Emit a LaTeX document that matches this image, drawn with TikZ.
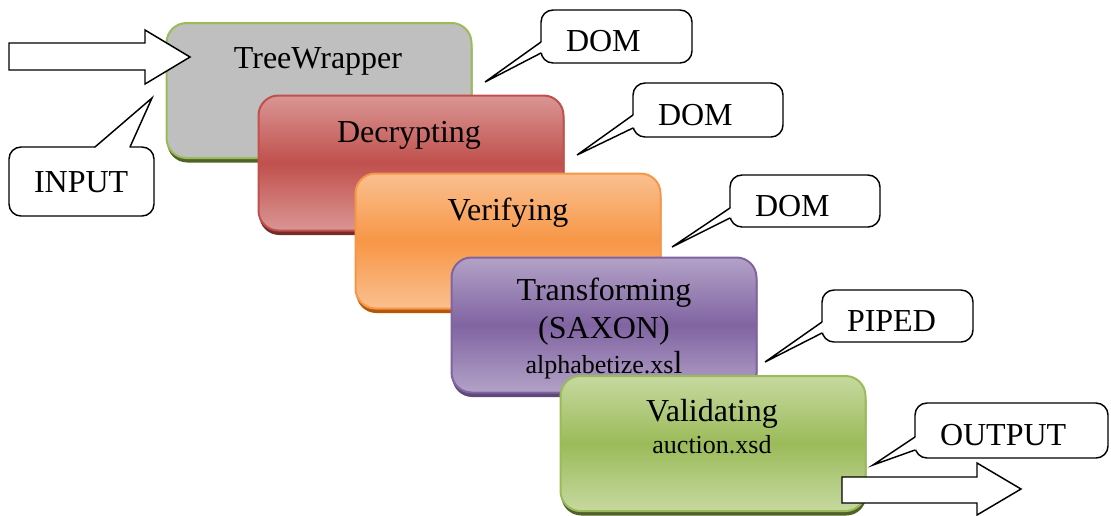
\documentclass[tikz,border=0pt]{standalone}
\usepackage{fontspec}
\setmainfont{Liberation Serif}
\usetikzlibrary{calc,shadows}

% one pixel of the layout grid
\newlength\unitpx
\setlength\unitpx{0.75pt}

\definecolor{grayfill}{HTML}{BFBFBF}
\definecolor{olgreen}{HTML}{9BBB59}
\definecolor{olgreenlt}{HTML}{C6D9A0}
\definecolor{olgreendk}{HTML}{4F6228}
\definecolor{redmid}{HTML}{C0504D}
\definecolor{redlt}{HTML}{DA9694}
\definecolor{reddk}{HTML}{772C2A}
\definecolor{orgmid}{HTML}{F79646}
\definecolor{orglt}{HTML}{FAC090}
\definecolor{orgdk}{HTML}{B65708}
\definecolor{purmid}{HTML}{8064A2}
\definecolor{purlt}{HTML}{B3A2C7}
\definecolor{purdk}{HTML}{5F497A}

\tikzset{
  stagebox/.style={rounded corners=20\unitpx, minimum width=305\unitpx,
    minimum height=135\unitpx, inner sep=0pt, outer sep=0pt, line width=1.5pt},
  tint/.style 2 args={top color=#1, bottom color=#1, middle color=#2},
  under/.style={drop shadow={shadow xshift=0.75\unitpx, shadow yshift=-4.5\unitpx,
    fill=#1, opacity=1}},
  stagetext/.style={font=\fontsize{24}{28}\selectfont, inner sep=0pt, anchor=base},
  smalltext/.style={font=\fontsize{19.5}{23}\selectfont, inner sep=0pt, anchor=base},
  callbox/.style={draw, fill=white, rounded corners=12\unitpx, line width=1.1pt,
    inner xsep=25\unitpx, inner ysep=0pt, outer sep=0pt, align=left,
    font=\fontsize{24}{28}\selectfont, text height=22.5pt, text depth=0pt},
  pointer/.style={line width=1.1pt, line join=miter, line cap=round},
  blockarrow/.style={draw, fill=white, line width=1.1pt, line join=miter},
}

\begin{document}
\begin{tikzpicture}[x=\unitpx, y=-\unitpx]
\useasboundingbox (0,0) rectangle (1111,515);

% processing stages, stacked down to the right
\node[stagebox, fill=grayfill, draw=olgreen, under=olgreendk] (b1) at (319,90.5) {};
\node[stagetext] (t1) at (318,68) {TreeWrapper};

\node[stagebox, tint={redlt}{redmid}, draw=redmid, under=reddk] (b2) at (411,163) {};
\node[stagetext] (t2) at (409,142) {Decrypting};

\node[stagebox, tint={orglt}{orgmid}, draw=orgmid, under=orgdk] (b3) at (508,241) {};
\node[stagetext] (t3) at (508,220) {Verifying};

\node[stagebox, tint={purlt}{purmid}, draw=purmid, under=purdk] (b4) at (604,325) {};
\node[stagetext] (t4a) at (604,300) {Transforming};
\node[stagetext] (t4b) at (604,338) {(SAXON)};
\node[smalltext] (t4c) at (604,373) {alphabetize.xs{\fontsize{24}{28}\selectfont l}};

\node[stagebox, tint={olgreenlt}{olgreen}, draw=olgreen, under=olgreendk] (b5) at (713,443.5) {};
\node[stagetext] (t5a) at (712,421) {Validating};
\node[smalltext] (t5b) at (712,453) {auction.xsd};

% block arrows for the data entering and leaving the chain
\draw[blockarrow] (9,43) -- (145,43) -- (145,30) -- (190,57) -- (145,84)
  -- (145,70) -- (9,70) -- cycle;
\draw[blockarrow] (842,477) -- (977,477) -- (977,463) -- (1021,489) -- (977,515)
  -- (977,503) -- (842,503) -- cycle;

% speech-bubble labels
\node[callbox, minimum width=145\unitpx, minimum height=69\unitpx,
  text width=95\unitpx, text height=16pt] (inp) at (81.5,181.5) {INPUT};
\coordinate (tipIn) at (152,98);
\fill[white] ($(inp.north)+(13.5,1.5)$) -- ($(inp.north)+(13.5,0)$) -- (tipIn)
  -- ($(inp.north)+(48.5,0)$) -- ($(inp.north)+(48.5,1.5)$) -- cycle;
\draw[pointer] ($(inp.north)+(13.5,0)$) -- (tipIn) -- ($(inp.north)+(48.5,0)$);

\node[callbox, minimum width=151\unitpx, minimum height=53\unitpx,
  text width=101\unitpx] (dom1) at (616.5,36.5) {DOM};
\coordinate (tip1) at (485,82);
\fill[white] ($(dom1.west)+(1.5,5.5)$) -- ($(dom1.west)+(0,5.5)$) -- (tip1)
  -- ($(dom1.west)+(0,16.5)$) -- ($(dom1.west)+(1.5,16.5)$) -- cycle;
\draw[pointer] ($(dom1.west)+(0,5.5)$) -- (tip1) -- ($(dom1.west)+(0,16.5)$);

\node[callbox, minimum width=150\unitpx, minimum height=54\unitpx,
  text width=100\unitpx] (dom2) at (708,110) {DOM};
\coordinate (tip2) at (577,155);
\fill[white] ($(dom2.west)+(1.5,5)$) -- ($(dom2.west)+(0,5)$) -- (tip2)
  -- ($(dom2.west)+(0,18)$) -- ($(dom2.west)+(1.5,18)$) -- cycle;
\draw[pointer] ($(dom2.west)+(0,5)$) -- (tip2) -- ($(dom2.west)+(0,18)$);

\node[callbox, minimum width=150\unitpx, minimum height=52\unitpx,
  text width=100\unitpx] (dom3) at (805,201) {DOM};
\coordinate (tip3) at (672,247);
\fill[white] ($(dom3.west)+(1.5,7)$) -- ($(dom3.west)+(0,7)$) -- (tip3)
  -- ($(dom3.west)+(0,17)$) -- ($(dom3.west)+(1.5,17)$) -- cycle;
\draw[pointer] ($(dom3.west)+(0,7)$) -- (tip3) -- ($(dom3.west)+(0,17)$);

\node[callbox, minimum width=151\unitpx, minimum height=52\unitpx,
  text width=101\unitpx] (piped) at (897.5,316) {PIPED};
\coordinate (tip4) at (765,362);
\fill[white] ($(piped.west)+(1.5,6)$) -- ($(piped.west)+(0,6)$) -- (tip4)
  -- ($(piped.west)+(0,17)$) -- ($(piped.west)+(1.5,17)$) -- cycle;
\draw[pointer] ($(piped.west)+(0,6)$) -- (tip4) -- ($(piped.west)+(0,17)$);

\node[callbox, minimum width=193\unitpx, minimum height=55\unitpx,
  text width=143\unitpx] (outp) at (1011.5,430.5) {OUTPUT};
\coordinate (tipOut) at (873,465);
\fill[white] ($(outp.west)+(1.5,6.5)$) -- ($(outp.west)+(0,6.5)$) -- (tipOut)
  -- ($(outp.west)+(0,19.5)$) -- ($(outp.west)+(1.5,19.5)$) -- cycle;
\draw[pointer] ($(outp.west)+(0,6.5)$) -- (tipOut) -- ($(outp.west)+(0,19.5)$);
\end{tikzpicture}
\end{document}
